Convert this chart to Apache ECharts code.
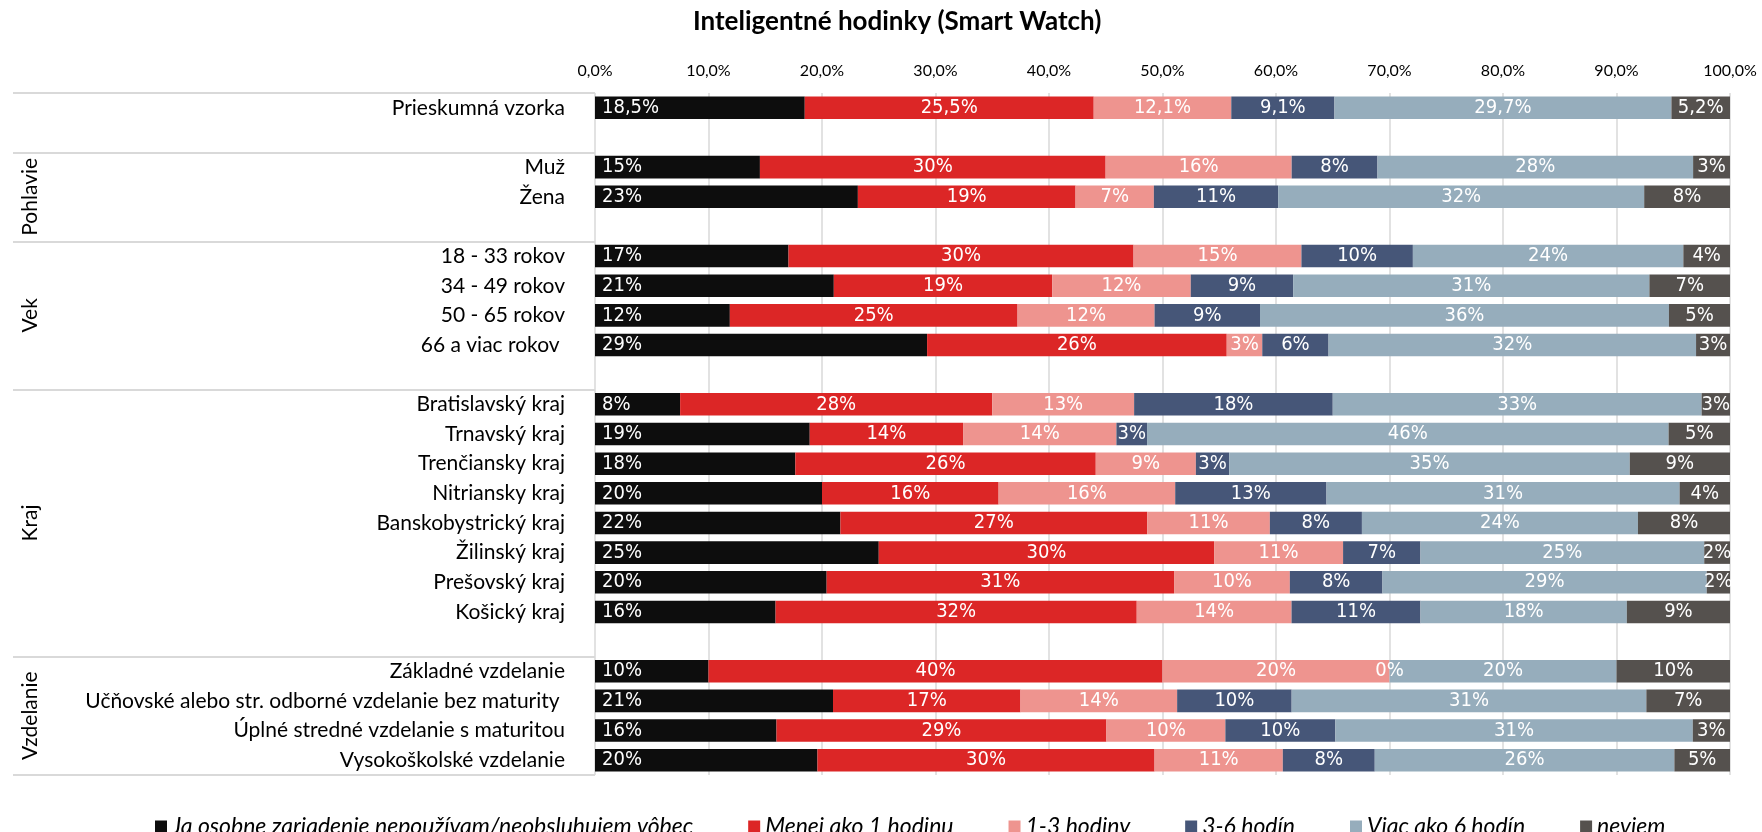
<!DOCTYPE html>
<html>
<head>
<meta charset="utf-8">
<title>Inteligentné hodinky (Smart Watch)</title>
<script src="https://cdn.jsdelivr.net/npm/echarts@6/dist/echarts.min.js"></script>
<style>
  html, body { margin: 0; padding: 0; background: #fff; }
  #chart { width: 1762px; height: 832px; }
</style>
</head>
<body>
<div id="chart"></div>
<script>
// rows top to bottom, empty strings are the spacer rows between sections
const categories = [
  "Prieskumná vzorka", "",
  "Muž", "Žena", "",
  "18 - 33 rokov", "34 - 49 rokov", "50 - 65 rokov", "66 a viac rokov ", "",
  "Bratislavský kraj", "Trnavský kraj", "Trenčiansky kraj", "Nitriansky kraj",
  "Banskobystrický kraj", "Žilinský kraj", "Prešovský kraj", "Košický kraj", "",
  "Základné vzdelanie", "Učňovské alebo str. odborné vzdelanie bez maturity ",
  "Úplné stredné vzdelanie s maturitou", "Vysokoškolské vzdelanie"
];

const seriesNames = [
  "Ja osobne zariadenie nepoužívam/neobsluhujem vôbec",
  "Menej ako 1 hodinu",
  "1-3 hodiny",
  "3-6 hodín",
  "Viac ako 6 hodín",
  "neviem"
];
const seriesColors = ["#0d0d0d", "#dc2626", "#ee948f", "#465678", "#96adbc", "#55514e"];

// percent per row, null on spacer rows
const nepouzivam = [18.48, null, 14.53, 23.16, null, 17.05, 21.04, 11.88, 29.26, null,
  7.5, 18.92, 17.65, 20.0, 21.62, 25.0, 20.41, 15.91, null, 10, 20.97, 15.99, 19.6];
const menej1 = [25.46, null, 30.46, 19.18, null, 30.40, 19.24, 25.35, 26.40, null,
  27.5, 13.51, 26.47, 15.56, 27.03, 29.55, 30.61, 31.82, null, 40, 16.52, 29.07, 29.7];
const hodiny13 = [12.12, null, 16.39, 6.90, null, 14.79, 12.21, 12.07, 3.13, null,
  12.5, 13.51, 8.82, 15.56, 10.81, 11.36, 10.20, 13.64, null, 20, 13.80, 10.48, 11.30];
const hodin36 = [9.09, null, 7.56, 10.95, null, 9.82, 9.02, 9.29, 5.84, null,
  17.5, 2.70, 2.94, 13.33, 8.11, 6.82, 8.16, 11.36, null, 0, 10.09, 9.69, 8.10];
const viac6 = [29.69, null, 27.81, 32.25, null, 23.83, 31.39, 36.03, 32.38, null,
  32.5, 45.95, 35.29, 31.11, 24.32, 25.0, 28.57, 18.18, null, 20, 31.25, 31.49, 26.40];
const neviem = [5.16, null, 3.25, 7.56, null, 4.11, 7.10, 5.38, 2.99, null,
  2.5, 5.41, 8.83, 4.44, 8.11, 2.27, 2.05, 9.09, null, 10, 7.37, 3.28, 4.90];

const seriesValues = [nepouzivam, menej1, hodiny13, hodin36, viac6, neviem];

// section labels on the left and the rows where sections begin
const groupNames = ["Pohlavie", "Vek", "Kraj", "Vzdelanie"];
const groupFirst = [2, 5, 10, 19];
const groupLast = [4, 9, 18, 22];
const sectionStarts = [0, 2, 5, 10, 19];

const FONT = "Lato, 'Open Sans', sans-serif";
const NUM_FONT = "'Liberation Sans Narrow', 'DejaVu Sans Condensed', sans-serif";
const LINE = "#d9d9d9";

function fmtPct(v, row) {
  return v.toFixed(row === 0 ? 1 : 0).replace(".", ",") + "%";
}

const chart = echarts.init(document.getElementById("chart"));

const option = {
  animation: false,
  title: {
    text: "Inteligentné hodinky (Smart Watch)",
    left: 688,
    top: 4,
    textStyle: { fontFamily: FONT, fontWeight: "bold", fontSize: 26, color: "#000" }
  },
  legend: {
    data: seriesNames,
    left: 150,
    top: 810,
    icon: "rect",
    itemWidth: 12,
    itemHeight: 12,
    itemGap: 55,
    textStyle: { fontFamily: FONT, fontStyle: "italic", fontSize: 23, color: "#000" }
  },
  grid: { left: 595, right: 32, top: 93, bottom: 57 },
  xAxis: {
    type: "value",
    position: "top",
    min: 0,
    max: 100,
    interval: 10,
    axisLine: { show: false },
    axisTick: { show: false },
    splitLine: { lineStyle: { color: LINE, width: 1.5 } },
    axisLabel: {
      margin: 14,
      fontFamily: FONT,
      fontSize: 16,
      color: "#000",
      formatter: v => v.toFixed(1).replace(".", ",") + "%"
    }
  },
  yAxis: {
    type: "category",
    inverse: true,
    data: categories,
    axisLine: { show: false },
    axisTick: {
      show: true,
      length: 582,
      interval: idx => sectionStarts.includes(idx),
      lineStyle: { color: LINE, width: 2 }
    },
    axisLabel: {
      interval: 0,
      margin: 30,
      fontFamily: FONT,
      fontSize: 21,
      color: "#000"
    }
  },
  series: seriesNames.map((name, i) => ({
    name,
    type: "bar",
    stack: "total",
    barCategoryGap: "24%",
    data: seriesValues[i],
    itemStyle: { color: seriesColors[i] },
    label: {
      show: true,
      position: i === 0 ? "insideLeft" : "inside",
      distance: 7,
      color: "#fff",
      fontFamily: NUM_FONT,
      fontSize: 20,
      formatter: p => fmtPct(p.value, p.dataIndex)
    }
  }))
};

chart.setOption(option);

// vertical section names, centred on each section's rows
function groupCenter(i) {
  const a = chart.convertToPixel({ yAxisIndex: 0 }, groupFirst[i]);
  const b = chart.convertToPixel({ yAxisIndex: 0 }, groupLast[i]);
  return (a + b) / 2;
}

chart.setOption({
  graphic: groupNames.map((name, i) => ({
    type: "text",
    x: 30,
    y: groupCenter(i),
    rotation: Math.PI / 2,
    style: {
      text: name,
      fill: "#000",
      fontFamily: FONT,
      fontSize: 21,
      align: "center",
      verticalAlign: "middle",
      textAlign: "center",
      textVerticalAlign: "middle"
    }
  }))
});
</script>
</body>
</html>
